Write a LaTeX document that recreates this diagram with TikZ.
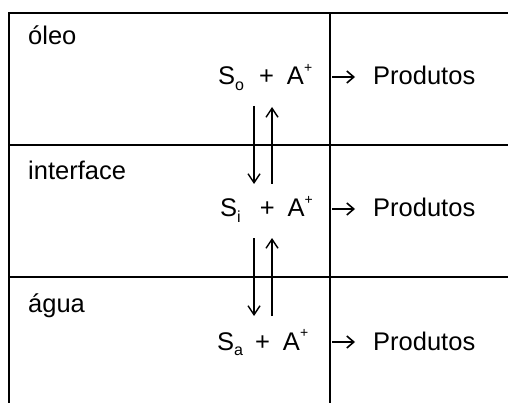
\documentclass[tikz,border=0pt]{standalone}
\usepackage{fontspec}
\setmainfont{Liberation Sans}
\usetikzlibrary{arrows.meta}
\newcommand\sbs[1]{\raisebox{-0.22em}{\fontsize{16}{16}\selectfont #1}}
\newcommand\sps[1]{\raisebox{0.5em}{\fontsize{14}{14}\selectfont #1}}
\begin{document}
\begin{tikzpicture}[x=1pt,y=-1pt,
  frame/.style={line width=1.4pt},
  lbl/.style={anchor=base west,inner sep=0pt,font=\fontsize{25.5}{30}\selectfont},
  eqn/.style={anchor=base west,inner sep=0pt,font=\fontsize{25.5}{30}\selectfont},
  flow/.style={line width=1.4pt,-{Straight Barb[length=9pt,width=12pt,line width=1.4pt]}},
  react/.style={line width=1.6pt,-{Straight Barb[length=7pt,width=12pt,line width=1.6pt]}}]
\useasboundingbox (0,0) rectangle (508,403);
% frame
\draw[frame] (9,403) -- (9,13) -- (508,13);
\draw[frame] (9,145) -- (508,145);
\draw[frame] (9,277) -- (508,277);
\draw[frame] (330,13) -- (330,403);
% labels
\node[lbl] (oleo) at (28,45) {óleo};
\node[lbl] (inter) at (28,180) {interface};
\node[lbl] (agua) at (28,312) {água};
% equations
\node[eqn] (r1) at (218,85) {S\sbs{o}\hspace{15pt}+\hspace{13pt}A\sps{+}};
\node[eqn] (r2) at (220,217) {S\sbs{i}\hspace{19pt}+\hspace{13pt}A\sps{+}};
\node[eqn] (r3) at (217,350) {S\sbs{a}\hspace{12pt}+\hspace{13pt}A\sps{+}};
\node[eqn] (p1) at (373,85) {Produtos};
\node[eqn] (p2) at (373,217) {Produtos};
\node[eqn] (p3) at (373,350) {Produtos};
% reaction arrows
\coordinate (a1s) at (332,77); \coordinate (a1e) at (355,77);
\coordinate (a2s) at (332,209); \coordinate (a2e) at (355,209);
\coordinate (a3s) at (332,342); \coordinate (a3e) at (355,342);
\draw[react] (a1s) -- (a1e);
\draw[react] (a2s) -- (a2e);
\draw[react] (a3s) -- (a3e);
% exchange arrows
\coordinate (d1s) at (254,106); \coordinate (d1e) at (254,184);
\coordinate (u1s) at (272,184); \coordinate (u1e) at (272,107);
\coordinate (d2s) at (254,238); \coordinate (d2e) at (254,316);
\coordinate (u2s) at (272,316); \coordinate (u2e) at (272,238);
\draw[flow] (d1s) -- (d1e);
\draw[flow] (u1s) -- (u1e);
\draw[flow] (d2s) -- (d2e);
\draw[flow] (u2s) -- (u2e);
\end{tikzpicture}
\end{document}
